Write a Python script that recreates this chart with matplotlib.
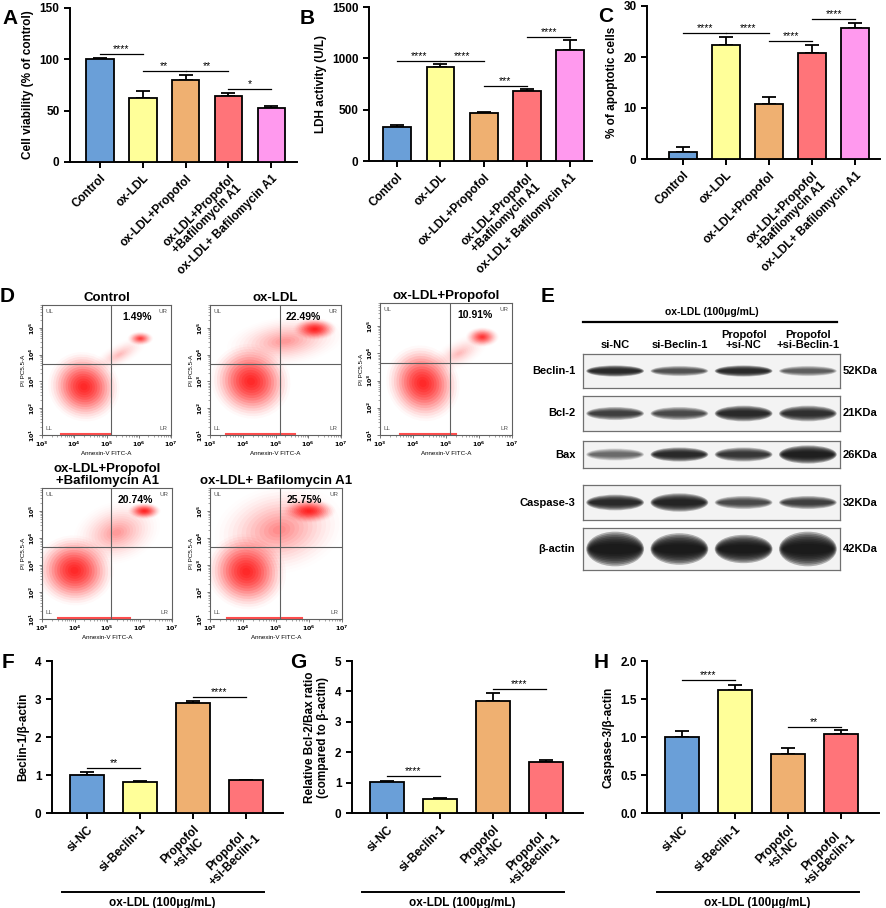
import numpy as np
import matplotlib
matplotlib.use("Agg")
import matplotlib.pyplot as plt
from matplotlib.patches import Ellipse

plt.rcParams['font.family'] = ['Liberation Sans', 'DejaVu Sans']
plt.rcParams['font.weight'] = 'bold'
plt.rcParams['axes.labelweight'] = 'bold'

# ---- data ----
top_groups = ["Control", "ox-LDL", "ox-LDL+Propofol",
              "ox-LDL+Propofol\n+Bafilomycin A1", "ox-LDL+ Bafilomycin A1"]
viability = [100, 62, 80, 64, 52.5]
viability_err = [1.5, 7, 5, 3, 2.5]
ldh = [330, 920, 470, 680, 1085]
ldh_err = [20, 25, 12, 20, 90]
apoptotic = [1.4, 22.4, 10.8, 20.7, 25.7]
apoptotic_err = [0.9, 1.6, 1.3, 1.6, 1.0]
sig_A = [(0, 1, 105, "****"), (1, 2, 88.5, "**"), (2, 3, 88.5, "**"), (3, 4, 71, "*")]
sig_B = [(0, 1, 975, "****"), (1, 2, 975, "****"), (2, 3, 730, "***"), (3, 4, 1208, "****")]
sig_C = [(0, 1, 24.7, "****"), (1, 2, 24.7, "****"), (2, 3, 23.1, "****"), (3, 4, 27.4, "****")]

si_groups = ["si-NC", "si-Beclin-1", "Propofol\n+si-NC", "Propofol\n+si-Beclin-1"]
beclin = [1.0, 0.82, 2.9, 0.86]
beclin_err = [0.09, 0.02, 0.05, 0.02]
bcl_bax = [1.01, 0.46, 3.7, 1.68]
bcl_bax_err = [0.05, 0.04, 0.25, 0.06]
casp3 = [1.0, 1.62, 0.77, 1.04]
casp3_err = [0.08, 0.07, 0.09, 0.05]
sig_F = [(0, 1, 1.18, "**"), (2, 3, 3.04, "****")]
sig_G = [(0, 1, 1.23, "****"), (2, 3, 4.09, "****")]
sig_H = [(0, 1, 1.75, "****"), (2, 3, 1.135, "**")]

flow_titles = ["Control", "ox-LDL", "ox-LDL+Propofol",
               "ox-LDL+Propofol\n+Bafilomycin A1", "ox-LDL+ Bafilomycin A1"]
flow_ur_pct = ["1.49%", "22.49%", "10.91%", "20.74%", "25.75%"]
# cell populations: (log10 Annexin-V, log10 PI, spread x, spread y, angle, density)
flow_clusters = [
    [(4.3, 2.8, 0.55, 0.65, 10, 1.0), (6.05, 4.6, 0.2, 0.13, 0, 0.7), (5.4, 4.0, 0.5, 0.2, 35, 0.15)],
    [(4.25, 3.0, 0.6, 0.7, 10, 1.0), (6.2, 4.95, 0.33, 0.2, 0, 1.0), (5.3, 4.5, 0.9, 0.45, 10, 0.25)],
    [(4.3, 2.9, 0.55, 0.7, 10, 1.0), (6.1, 4.6, 0.25, 0.18, 0, 0.8), (5.4, 4.0, 0.5, 0.25, 35, 0.15)],
    [(4.0, 2.8, 0.6, 0.65, 10, 1.0), (6.15, 5.0, 0.25, 0.15, 0, 1.0), (5.3, 4.2, 0.7, 0.55, 30, 0.25)],
    [(4.1, 2.75, 0.6, 0.7, 10, 1.0), (6.0, 5.0, 0.4, 0.22, 0, 1.0), (5.1, 4.3, 1.0, 0.8, 20, 0.3)],
]
flow_axis_events = [(3.6, 5.1), (3.5, 5.6), (3.6, 5.3), (3.5, 5.7), (3.5, 5.8)]
gate_x, gate_y = 5.13, 3.65

blot_proteins = ["Beclin-1", "Bcl-2", "Bax", "Caspase-3", "β-actin"]
blot_kda = ["52KDa", "21KDa", "26KDa", "32KDa", "42KDa"]
band_intensity = [[0.85, 0.6, 0.85, 0.55],
                  [0.7, 0.65, 0.85, 0.8],
                  [0.5, 0.85, 0.75, 0.95],
                  [0.85, 0.9, 0.65, 0.7],
                  [1.0, 1.0, 1.0, 1.0]]
band_thickness = [[0.22, 0.2, 0.22, 0.2],
                  [0.25, 0.25, 0.3, 0.3],
                  [0.3, 0.35, 0.35, 0.45],
                  [0.3, 0.35, 0.25, 0.25],
                  [0.55, 0.5, 0.45, 0.55]]

bar_colors = ["#6a9fd8", "#ffff99", "#efb071", "#ff7479", "#ff99ee"]

W, H = 886, 908
fig = plt.figure(figsize=(W / 100, H / 100), dpi=100)


def px_axes(l, t, r, b):
    return fig.add_axes([l / W, 1 - b / H, (r - l) / W, (b - t) / H])


def letter(x, y, s):
    fig.text(x / W, 1 - y / H, s, fontsize=15, fontweight='bold', va='center', ha='left')


def bar_panel(ax, labels, vals, errs, sigs, ylim, yticks, ylabel, xlim):
    x = np.arange(len(vals))
    ax.bar(x, vals, width=0.64, color=bar_colors[:len(vals)], edgecolor='black', linewidth=1.3, zorder=3)
    ax.errorbar(x, vals, yerr=[np.zeros(len(errs)), errs], fmt='none', ecolor='black',
                elinewidth=1.3, capsize=5, capthick=1.3, zorder=2)
    for i, j, h, s in sigs:
        ax.plot([i, j], [h, h], color='black', lw=0.9, clip_on=False)
        ax.text((i + j) / 2, h, s, ha='center', va='bottom', fontsize=7.5, fontweight='normal')
    ax.set_xlim(*xlim)
    ax.set_ylim(*ylim)
    ax.set_yticks(yticks)
    ax.set_xticks(x)
    ax.set_xticklabels(labels, rotation=45, ha='right', rotation_mode='anchor', fontsize=9,
                       multialignment='center', linespacing=1.05)
    ax.set_ylabel(ylabel, fontsize=8.5)
    for sp in ['top', 'right']:
        ax.spines[sp].set_visible(False)
    for sp in ['left', 'bottom']:
        ax.spines[sp].set_linewidth(1.4)
    ax.tick_params(direction='out', length=4, width=1.4, labelsize=8.5)


# ---- A, B, C ----
axA = px_axes(70, 8, 297, 162)
bar_panel(axA, top_groups, viability, viability_err, sig_A, (0, 150), [0, 50, 100, 150],
          "Cell viability (% of control)", (-0.7, 4.6))
axB = px_axes(369, 7, 592, 161)
bar_panel(axB, top_groups, ldh, ldh_err, sig_B, (0, 1500), [0, 500, 1000, 1500],
          "LDH activity (U/L)", (-0.65, 4.5))
axC = px_axes(647, 6, 880, 159)
bar_panel(axC, top_groups, apoptotic, apoptotic_err, sig_C, (0, 30), [0, 10, 20, 30],
          "% of apoptotic cells", (-0.84, 4.58))
letter(2, 18, "A")
letter(300, 18, "B")
letter(598, 16, "C")

# ---- D: flow cytometry ----
flow_rects = [(42, 305, 171, 435), (210, 305, 341, 435), (380, 303, 512, 435),
              (42, 488, 172, 619), (210, 488, 342, 619)]
layer_scale = np.linspace(2.0, 0.2, 14)
layer_alpha = np.linspace(0.025, 0.26, 14)
for k, rect in enumerate(flow_rects):
    ax = px_axes(*rect)
    ax.set_xlim(3, 7)
    ax.set_ylim(1, 5.85)
    for cx, cy, sx, sy, ang, dens in flow_clusters[k]:
        for f, a in zip(layer_scale, layer_alpha):
            ax.add_patch(Ellipse((cx, cy), 2 * sx * f, 2 * sy * f, angle=ang,
                                 facecolor='#ff1010', alpha=a * dens, lw=0))
    x0, x1 = flow_axis_events[k]
    ax.plot([x0, x1], [1.03, 1.03], color='#ff2020', lw=1.5, alpha=0.8)
    ax.axvline(gate_x, color='#606060', lw=0.8)
    ax.axhline(gate_y, color='#606060', lw=0.8)
    for sp in ax.spines.values():
        sp.set_color('#606060')
        sp.set_linewidth(0.8)
    ax.set_xticks(range(3, 8))
    ax.set_xticklabels([f"$10^{n}$" for n in range(3, 8)], fontsize=4.5, fontweight='normal')
    ax.set_yticks(range(1, 6))
    ax.set_yticklabels([f"$10^{n}$" for n in range(1, 6)], fontsize=4.5, fontweight='normal',
                       rotation=90, va='center')
    ax.set_xticks([n + np.log10(m) for n in range(3, 7) for m in range(2, 10)], minor=True)
    ax.set_yticks([n + np.log10(m) for n in range(1, 6) for m in range(2, 10) if n + np.log10(m) < 5.85],
                  minor=True)
    ax.tick_params(which='major', length=2.5, width=0.6, color='#606060', pad=1)
    ax.tick_params(which='minor', length=1.2, width=0.4, color='#606060')
    ax.set_xlabel("Annexin-V FITC-A", fontsize=4.5, fontweight='normal', labelpad=1)
    ax.set_ylabel("PI PC5.5-A", fontsize=4.5, fontweight='normal', labelpad=1)
    ax.text(0.03, 0.97, "UL", transform=ax.transAxes, fontsize=4.5, fontweight='normal', color='#555555', va='top')
    ax.text(0.97, 0.97, "UR", transform=ax.transAxes, fontsize=4.5, fontweight='normal', color='#555555',
            va='top', ha='right')
    ax.text(0.03, 0.04, "LL", transform=ax.transAxes, fontsize=4.5, fontweight='normal', color='#555555')
    ax.text(0.97, 0.04, "LR", transform=ax.transAxes, fontsize=4.5, fontweight='normal', color='#555555', ha='right')
    ax.text(0.85, 0.95, flow_ur_pct[k], transform=ax.transAxes, fontsize=7.5, fontweight='bold',
            va='top', ha='right')
    ax.set_title(flow_titles[k], fontsize=9.5, fontweight='bold', pad=3, linespacing=1.0)
letter(0, 296, "D")

# ---- E: western blot ----
blot_rows = [(354, 388), (396, 431), (441, 468), (485, 520), (528, 570)]
lane_x = np.arange(4)
band_layers = np.linspace(1.0, 0.3, 8)
for r, (t, b) in enumerate(blot_rows):
    ax = px_axes(583, t, 840, b)
    ax.set_xlim(-0.5, 3.5)
    ax.set_ylim(0, 1)
    ax.set_facecolor('#f3f3f3')
    for i in lane_x:
        inten = band_intensity[r][i]
        th = band_thickness[r][i]
        for f in band_layers:
            ax.add_patch(Ellipse((i, 0.5), 0.9 * (0.8 + 0.2 * f), th * f * 1.5,
                                 facecolor='#101010', alpha=0.3 * inten ** 1.5, lw=0))
    ax.set_xticks([])
    ax.set_yticks([])
    for sp in ax.spines.values():
        sp.set_color('#707070')
        sp.set_linewidth(0.9)
    ax.text(-0.03, 0.5, blot_proteins[r], transform=ax.transAxes, ha='right', va='center', fontsize=8)
    ax.text(1.01, 0.5, blot_kda[r], transform=ax.transAxes, ha='left', va='center', fontsize=8)
    if r == 0:
        for i, lab in enumerate(si_groups):
            ax.text(i, 1.12, lab, ha='center', va='bottom', fontsize=8, linespacing=1.0)
        ax.plot([-0.5, 3.45], [1.95, 1.95], color='black', lw=1.6, clip_on=False)
        ax.text(1.5, 2.1, "ox-LDL (100μg/mL)", ha='center', va='bottom', fontsize=7.5)
letter(541, 297, "E")

# ---- F, G, H ----
axF = px_axes(52, 661, 283, 813)
bar_panel(axF, si_groups, beclin, beclin_err, sig_F, (0, 4), [0, 1, 2, 3, 4],
          "Beclin-1/β-actin", (-0.66, 3.7))
axG = px_axes(352, 661, 583, 813)
bar_panel(axG, si_groups, bcl_bax, bcl_bax_err, sig_G, (0, 5), [0, 1, 2, 3, 4, 5],
          "Relative Bcl-2/Bax ratio\n(compared to β-actin)", (-0.66, 3.7))
axH = px_axes(647, 661, 879, 813)
bar_panel(axH, si_groups, casp3, casp3_err, sig_H, (0, 2.0), [0.0, 0.5, 1.0, 1.5, 2.0],
          "Caspase-3/β-actin", (-0.66, 3.72))
axH.set_yticklabels(["0.0", "0.5", "1.0", "1.5", "2.0"])
for ax in (axF, axG, axH):
    tr = ax.get_xaxis_transform()
    ax.plot([-0.48, 3.35], [-0.52, -0.52], color='black', lw=1.4, transform=tr, clip_on=False)
    ax.text(1.43, -0.555, "ox-LDL (100μg/mL)", transform=tr, ha='center', va='top', fontsize=8.5)
letter(2, 663, "F")
letter(290, 663, "G")
letter(594, 663, "H")

fig.savefig("out.png", dpi=100)
